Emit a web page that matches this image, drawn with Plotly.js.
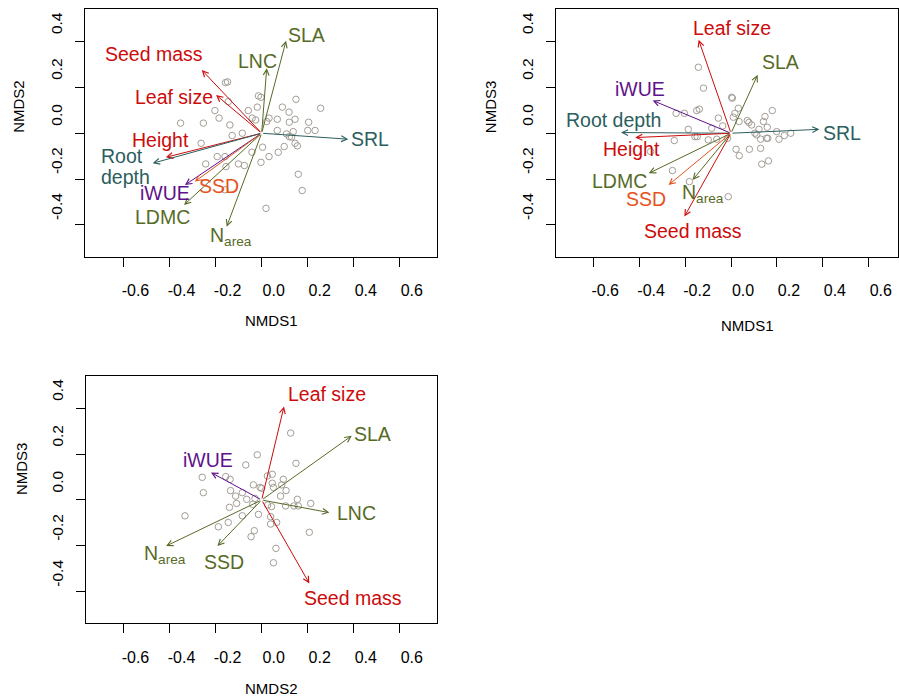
<!DOCTYPE html>
<html><head><meta charset="utf-8">
<script src="https://cdn.plot.ly/plotly-3.0.1.min.js"></script>
<style>html,body{margin:0;padding:0;background:#fff}#chart{width:899px;height:697px}</style>
</head><body><div id="chart"></div>
<script>
// ---------- tick labels ----------
const xTickVals = [-0.6, -0.4, -0.2, 0, 0.2, 0.4, 0.6];
const xTickText = ['-0.6', '-0.4', '-0.2', '0.0', '0.2', '0.4', '0.6'];
const yTickVals = [-0.4, -0.2, 0, 0.2, 0.4];
const yTickText = ['-0.4', '-0.2', '0.0', '0.2', '0.4'];

// ---------- Panel 1: NMDS1 vs NMDS2 ----------
const sites1X = [-0.157,-0.148,-0.014,-0.003,0.149,0.256,0.090,0.119,-0.203,-0.058,-0.019,-0.185,-0.041,-0.026,0.032,0.022,0.068,0.145,0.120,0.204,-0.352,-0.253,-0.138,-0.145,0.068,0.137,0.200,0.232,0.108,0.120,0.130,-0.128,-0.084,-0.263,0.004,0.098,0.145,0.155,-0.042,0.072,0.032,-0.193,-0.159,-0.243,-0.101,-0.075,-0.003,-0.155,0.159,0.176,-0.159,0.019];
const sites1Y = [0.221,0.224,0.163,0.157,0.148,0.109,0.114,0.092,0.099,0.099,0.114,0.066,0.066,0.058,0.066,0.051,0.061,0.061,0.048,0.048,0.044,0.044,0.036,0.138,0.012,0.007,0.012,0.012,-0.003,-0.015,-0.017,-0.010,0.000,-0.044,-0.061,-0.058,-0.044,-0.055,-0.083,-0.083,-0.102,-0.102,-0.102,-0.134,-0.134,-0.141,-0.127,-0.146,-0.179,-0.250,-0.247,-0.328];
const traits1 = ['SLA','LNC','Seed mass','Leaf size','Height','Root depth','SRL','iWUE','SSD','LDMC','Narea'];
const traits1X = [0.106,0.022,-0.260,-0.198,-0.416,-0.473,0.376,-0.333,-0.290,-0.337,-0.152];
const traits1Y = [0.404,0.284,0.276,0.167,-0.105,-0.131,-0.026,-0.226,-0.211,-0.313,-0.408];

// ---------- Panel 2: NMDS1 vs NMDS3 ----------
const sites2X = [-0.142,-0.120,0.003,0.006,0.032,0.017,0.010,-0.239,-0.203,-0.149,-0.138,-0.055,-0.084,-0.036,-0.186,-0.157,-0.147,-0.099,-0.247,-0.062,-0.015,0.035,0.071,0.078,0.090,0.141,0.148,0.180,0.158,0.122,0.104,0.112,0.155,0.160,0.129,0.199,0.209,0.232,0.260,0.022,0.036,0.080,0.129,0.134,0.163,-0.255,-0.181,-0.012,-0.350];
const sites2Y = [0.288,0.197,0.157,0.153,0.109,0.087,0.070,0.087,0.087,0.099,0.105,0.066,0.022,0.032,0.017,-0.015,-0.015,-0.029,-0.032,-0.026,-0.022,0.051,0.055,0.047,0.036,0.051,0.073,0.099,0.026,0.017,0.000,-0.007,-0.022,-0.022,-0.026,0.007,-0.026,-0.010,0.000,-0.070,-0.098,-0.070,-0.066,-0.135,-0.121,-0.163,-0.211,-0.277,-0.080];
const traits2 = ['Leaf size','SLA','iWUE','Root depth','Height','SRL','LDMC','SSD','Narea','Seed mass'];
const traits2X = [-0.141,0.116,-0.341,-0.479,-0.417,0.385,-0.358,-0.272,-0.167,-0.203];
const traits2Y = [0.408,0.255,0.143,0.003,-0.019,0.017,-0.175,-0.226,-0.204,-0.364];

// ---------- Panel 3: NMDS2 vs NMDS3 ----------
const sites3X = [0.126,-0.019,0.149,-0.069,-0.258,-0.253,-0.156,-0.137,0.025,0.046,0.094,-0.036,-0.007,0.000,0.046,0.051,0.087,0.106,0.082,-0.135,-0.113,-0.084,-0.065,-0.029,-0.109,-0.140,-0.039,0.026,0.043,0.155,0.104,0.140,0.159,0.213,-0.333,-0.084,-0.014,0.039,-0.145,-0.188,0.039,0.065,-0.032,-0.046,0.207,0.062,0.051];
const sites3Y = [0.292,0.197,0.160,0.153,0.099,0.032,0.102,0.090,0.105,0.112,0.090,0.066,0.055,0.051,0.073,0.055,0.066,0.041,0.017,0.041,0.017,0.032,0.003,0.007,-0.015,-0.032,-0.019,-0.022,-0.029,0.003,-0.026,-0.026,-0.026,-0.015,-0.069,-0.069,-0.063,-0.073,-0.098,-0.117,-0.105,-0.098,-0.134,-0.160,-0.141,-0.211,-0.274];
const traits3 = ['Leaf size','SLA','iWUE','LNC','Narea','SSD','Seed mass'];
const traits3X = [0.097,0.391,-0.220,0.294,-0.415,-0.192,0.207];
const traits3Y = [0.408,0.280,0.120,-0.055,-0.201,-0.201,-0.364];

// ---------- styling ----------
const RED = '#cc0b0b', OLIVE = '#576b27', TEAL = '#2b5e5e', PURPLE = '#5f1289', ORANGE = '#e4531c';
const colorMap = {'SLA':OLIVE,'LNC':OLIVE,'LDMC':OLIVE,'Narea':OLIVE,'Seed mass':RED,'Leaf size':RED,'Height':RED,
  'Root depth':TEAL,'SRL':TEAL,'iWUE':PURPLE,'SSD':ORANGE};
const panel3Colors = {'SSD':OLIVE};
const FONT = 'Liberation Sans, Arial, Helvetica, sans-serif';
const LABEL_SIZE = 19.5;
// label placement (data coordinates of each panel) - layout only
const labelPos = {
  1: {'SLA':[0.195,0.429],'LNC':[-0.019,0.317],'Seed mass':[-0.468,0.346],'Leaf size':[-0.381,0.157],
      'Height':[-0.439,-0.029],'SRL':[0.470,-0.026],'iWUE':[-0.420,-0.262],'SSD':[-0.184,-0.230],
      'LDMC':[-0.430,-0.367],'Narea':[-0.133,-0.452]},
  2: {'Leaf size':[0.003,0.459],'SLA':[0.216,0.309],'iWUE':[-0.396,0.192],'Root depth':[-0.512,0.058],
      'Height':[-0.433,-0.070],'SRL':[0.482,0.003],'LDMC':[-0.486,-0.207],'SSD':[-0.370,-0.288],
      'Narea':[-0.120,-0.265],'Seed mass':[-0.164,-0.429]},
  3: {'Leaf size':[0.282,0.464],'SLA':[0.482,0.289],'iWUE':[-0.234,0.175],'LNC':[0.410,-0.058],
      'Narea':[-0.421,-0.237],'SSD':[-0.164,-0.270],'Seed mass':[0.395,-0.426]}
};

const W = 899, H = 697;
const box = { // pixel boxes of plotting regions
  1: {l:85, r:436.7, t:9.3, b:256.7, xr:[-0.767,0.760], yr:[-0.539,0.541]},
  2: {l:556, r:897.5, t:9.3, b:256.7, xr:[-0.762,0.725], yr:[-0.539,0.541]},
  3: {l:85.7, r:436.7, t:376, b:623.3, xr:[-0.764,0.760], yr:[-0.538,0.541]}
};

const data = [];
const annotations = [];
const layout = {width:W, height:H, margin:{l:0,r:0,t:0,b:0,pad:0,autoexpand:false}, showlegend:false,
  paper_bgcolor:'#fff', plot_bgcolor:'#fff', font:{family:FONT, color:'#000'}};

function axName(k, a){ return a + (k === 1 ? '' : k); }

function addPanel(k, sx, sy, traits, tx, ty){
  const xr = axName(k,'x'), yr = axName(k,'y');
  data.push({type:'scatter', mode:'markers', x:sx, y:sy, xaxis:xr, yaxis:yr,
    marker:{symbol:'circle-open', size:6.5, color:'#a39d96', line:{width:1, color:'#a39d96'}},
    hoverinfo:'skip'});
  traits.forEach((t,i)=>{
    const c = (k===3 && panel3Colors[t]) ? panel3Colors[t] : colorMap[t];
    annotations.push({xref:xr, yref:yr, axref:xr, ayref:yr, x:tx[i], y:ty[i], ax:0, ay:0,
      text:'', showarrow:true, arrowhead:5, arrowsize:1.15, arrowwidth:1, arrowcolor:c});
  });
  traits.forEach((t,i)=>{
    const c = (k===3 && panel3Colors[t]) ? panel3Colors[t] : colorMap[t];
    const p = labelPos[k][t];
    if (k===1 && t==='Root depth') {
      annotations.push({xref:xr, yref:yr, x:-0.705, y:-0.099, text:'Root', showarrow:false, xanchor:'left',
        font:{family:FONT, size:LABEL_SIZE, color:c}});
      annotations.push({xref:xr, yref:yr, x:-0.705, y:-0.190, text:'depth', showarrow:false, xanchor:'left',
        font:{family:FONT, size:LABEL_SIZE, color:c}});
      return;
    }
    const txt = t === 'Narea' ? 'N<sub>area</sub>' : t;
    annotations.push({xref:xr, yref:yr, x:p[0], y:p[1], text:txt, showarrow:false,
      font:{family:FONT, size:LABEL_SIZE, color:c}});
  });
  const b = box[k];
  const common = {showgrid:false, zeroline:false, showline:true, mirror:true, linecolor:'#000', linewidth:1,
    ticks:'outside', ticklen:9, tickwidth:1, tickcolor:'#000', fixedrange:true, automargin:false};
  layout[axName(k,'xaxis')] = Object.assign({}, common, {
    domain:[b.l/W, b.r/W], range:b.xr, anchor:yr,
    tickmode:'array', tickvals:xTickVals, ticktext:xTickText,
    tickfont:{family:FONT, size:16, color:'#000'}, ticklabelshift:12, ticklabelstandoff:10});
  layout[axName(k,'yaxis')] = Object.assign({}, common, {
    domain:[1-b.b/H, 1-b.t/H], range:b.yr, anchor:xr,
    tickmode:'array', tickvals:yTickVals, ticktext:yTickText, tickangle:-90,
    tickfont:{family:FONT, size:15.5, color:'#000'}, ticklabelshift:-16, ticklabelstandoff:7});
}

addPanel(1, sites1X, sites1Y, traits1, traits1X, traits1Y);
addPanel(2, sites2X, sites2Y, traits2, traits2X, traits2Y);
addPanel(3, sites3X, sites3Y, traits3, traits3X, traits3Y);

// axis titles
const titles = [
  {text:'NMDS1', x:271.7, y:320.7, a:0}, {text:'NMDS2', x:18.3, y:106.5, a:-90},
  {text:'NMDS1', x:747, y:325, a:0}, {text:'NMDS3', x:490.5, y:106.7, a:-90},
  {text:'NMDS2', x:271.7, y:688.3, a:0}, {text:'NMDS3', x:20.8, y:468.3, a:-90}
];
titles.forEach(t=>annotations.push({xref:'paper', yref:'paper', x:t.x/W, y:1-t.y/H, text:t.text,
  xanchor:'center', yanchor:'middle',
  showarrow:false, textangle:t.a, font:{family:FONT, size:15, color:'#000'}}));

layout.annotations = annotations;
Plotly.newPlot('chart', data, layout, {displayModeBar:false, staticPlot:true});
</script></body></html>
